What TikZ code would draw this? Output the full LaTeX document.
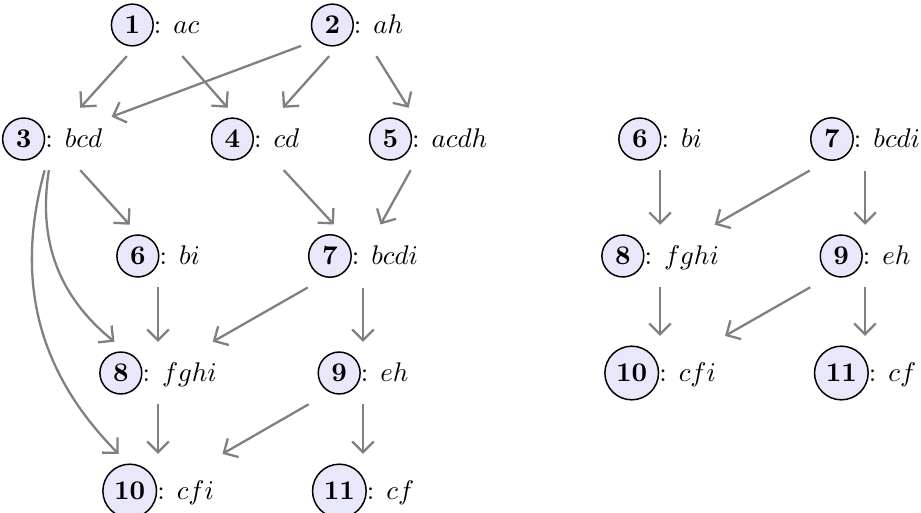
\documentclass[tikz,border=0pt]{standalone}
\usetikzlibrary{arrows.meta}
\definecolor{circfill}{RGB}{232,232,250}
\newcommand{\cnum}[1]{\tikz[baseline=(cn.base)]\node[circle,draw=black,fill=circfill,inner sep=2.4pt,line width=0.55pt](cn){\textbf{#1}};}
\newcommand{\lab}[2]{\cnum{#1}: $#2$}
\tikzset{
  lbl/.style={inner sep=0.3333em},
  arr/.style={draw=gray,line width=0.85pt,-{Straight Barb[length=4pt,width=8pt]}}
}
\begin{document}
\begin{tikzpicture}[x=0.37037pt,y=-0.37037pt]
\useasboundingbox (0,0) rectangle (921,513);
% left graph
\node[lbl] (a1) at (155,25) {\lab{1}{ac}};
\node[lbl] (a2) at (357,25) {\lab{2}{ah}};
\node[lbl] (a3) at (52,139) {\lab{3}{bcd}};
\node[lbl] (a4) at (255,139) {\lab{4}{cd}};
\node[lbl] (a5) at (428,139) {\lab{5}{acdh}};
\node[lbl] (a6) at (158,256) {\lab{6}{bi}};
\node[lbl] (a7) at (363,256) {\lab{7}{bcdi}};
\node[lbl] (a8) at (158,373) {\lab{8}{fghi}};
\node[lbl] (a9) at (363,373) {\lab{9}{eh}};
\node[lbl] (a10) at (158,491) {\lab{10}{cfi}};
\node[lbl] (a11) at (363,491) {\lab{11}{cf}};
\draw[arr] (a1) -- (a3);
\draw[arr] (a1) -- (a4);
\draw[arr] (a2) -- (a3);
\draw[arr] (a2) -- (a4);
\draw[arr] (a2) -- (a5);
\draw[arr] (a3) -- (a6);
\draw[arr] (a3) to[bend right=30] (a8);
\draw[arr] (a3) to[bend right=30] (a10);
\draw[arr] (a4) -- (a7);
\draw[arr] (a5) -- (a7);
\draw[arr] (a6) -- (a8);
\draw[arr] (a7) -- (a8);
\draw[arr] (a7) -- (a9);
\draw[arr] (a8) -- (a10);
\draw[arr] (a9) -- (a10);
\draw[arr] (a9) -- (a11);
% right graph
\node[lbl] (b6) at (660,139) {\lab{6}{bi}};
\node[lbl] (b7) at (865,139) {\lab{7}{bcdi}};
\node[lbl] (b8) at (660,256) {\lab{8}{fghi}};
\node[lbl] (b9) at (865,256) {\lab{9}{eh}};
\node[lbl] (b10) at (660,373) {\lab{10}{cfi}};
\node[lbl] (b11) at (865,373) {\lab{11}{cf}};
\draw[arr] (b6) -- (b8);
\draw[arr] (b7) -- (b8);
\draw[arr] (b7) -- (b9);
\draw[arr] (b8) -- (b10);
\draw[arr] (b9) -- (b10);
\draw[arr] (b9) -- (b11);
\end{tikzpicture}
\end{document}
